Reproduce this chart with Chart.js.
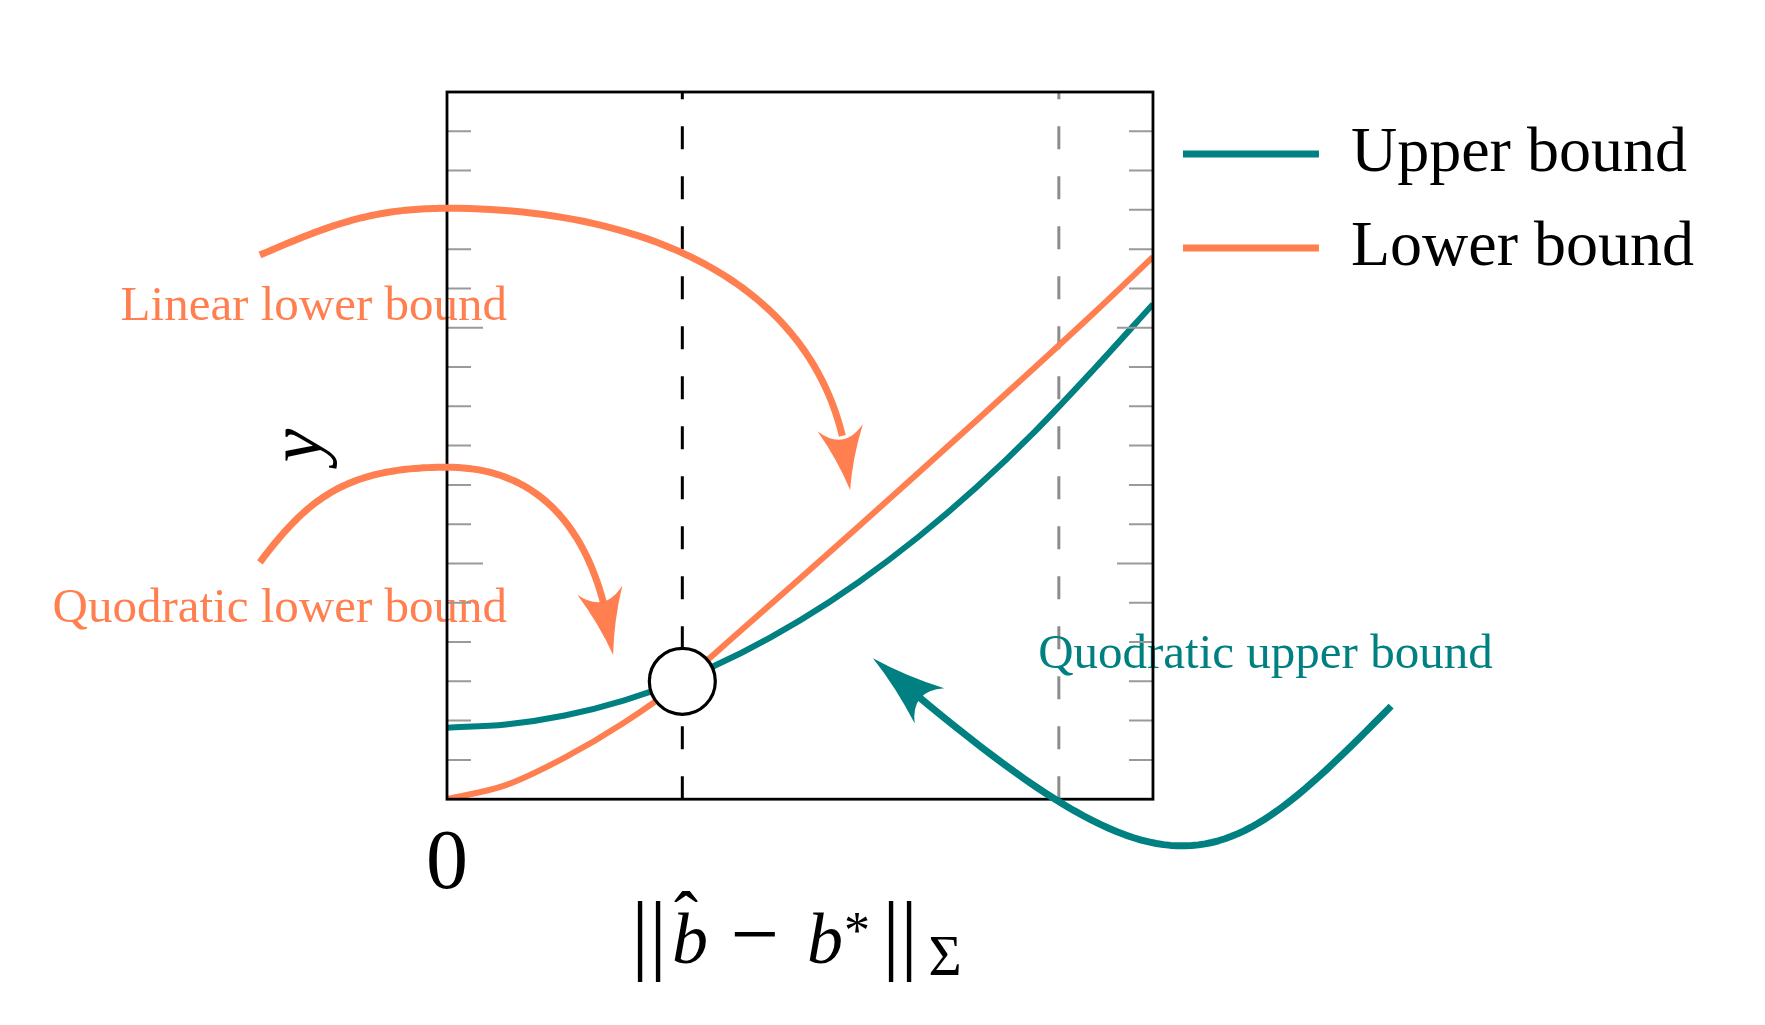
<!DOCTYPE html>
<html>
<head>
<meta charset="utf-8">
<script src="https://cdn.jsdelivr.net/npm/chart.js@4.4.0/dist/chart.umd.min.js"></script>
<style>
   html, body { margin: 0; padding: 0; background: #fff; }
   canvas { display: block; }
</style>
</head>
<body>
<canvas id="boundChart" width="1765" height="1025"></canvas>
<script>
// curve samples
var xValues = [0, 0.25, 0.5, 0.75, 1, 1.25, 1.5, 1.75, 2, 2.25, 2.5, 2.75, 3];
var upperBound = [1.82, 1.90, 2.13, 2.51, 3.04, 3.72, 4.55, 5.53, 6.66, 7.94, 9.37, 10.95, 12.60];
var lowerBound = [0, 0.36, 1.06, 1.94, 3.0, 4.30, 5.62, 6.95, 8.29, 9.64, 11.0, 12.38, 13.8];
var seriesNames = ['Upper bound', 'Lower bound'];
var touchPoint = [{ x: 1, y: 3 }];

// axes
var xMin = 0, xMax = 3;
var yMin = 0, yMax = 18, yMinorStep = 1, yMajorStep = 6;
var xTickValues = [0];
var xTickLabels = ['0'];
var yTitle = 'y';
var dashedXs = [1, 2.6];

// annotations (data coordinates)
var annotationTexts = ['Linear lower bound', 'Quodratic lower bound', 'Quodratic upper bound'];
var annotationAnchors = [[0.255, 12.19], [0.255, 4.51], [2.512, 3.33]];
// arrow paths as bezier: start point, then (control, control, end) per segment; last end is the tip
var linearArrow = [[-0.795, 13.85], [-0.501, 14.61], [-0.319, 15.04], [0, 15.04],
                   [0.946, 15.04], [1.670, 12.70], [1.713, 7.87]];
var quadLowerArrow = [[-0.795, 6.03], [-0.591, 7.66], [-0.425, 8.45], [0, 8.45],
                      [0.480, 8.45], [0.659, 6.08], [0.706, 3.67]];
var quadUpperArrow = [[4.012, 2.37], [3.260, -2.2], [3.081, -2.95], [1.810, 3.59]];

var TEAL = 'rgb(0,128,128)';
var CORAL = 'rgb(255,127,80)';
var SERIF = '"Liberation Serif", "Times New Roman", serif';

function toPx(chart, p) {
   return { x: chart.scales.x.getPixelForValue(p[0]), y: chart.scales.y.getPixelForValue(p[1]) };
}

// sample the bezier segments densely
function bezierPoints(pts) {
   var out = [pts[0]];
   for (var i = 1; i + 2 < pts.length; i += 3) {
      var p0 = pts[i - 1], c1 = pts[i], c2 = pts[i + 1], p1 = pts[i + 2];
      for (var s = 1; s <= 60; s++) {
         var t = s / 60, u = 1 - t;
         out.push({
            x: u * u * u * p0.x + 3 * u * u * t * c1.x + 3 * u * t * t * c2.x + t * t * t * p1.x,
            y: u * u * u * p0.y + 3 * u * u * t * c1.y + 3 * u * t * t * c2.y + t * t * t * p1.y
         });
      }
   }
   return out;
}

function drawArrow(chart, points, color) {
   var ctx = chart.ctx;
   var dense = bezierPoints(points.map(function(p) { return toPx(chart, p); }));
   var tip = dense[dense.length - 1];
   var headLen = 62, halfW = 23;
   var fromTip = [0];
   for (var i = dense.length - 2; i >= 0; i--) {
      fromTip.unshift(fromTip[0] + Math.hypot(dense[i + 1].x - dense[i].x, dense[i + 1].y - dense[i].y));
   }
   var shaft = [], base = dense[0];
   for (var j = 0; j < dense.length; j++) {
      if (fromTip[j] >= headLen - 14) shaft.push(dense[j]);
      if (fromTip[j] >= headLen) base = dense[j];
   }

   ctx.save();
   ctx.strokeStyle = color;
   ctx.fillStyle = color;
   ctx.lineWidth = 7;
   ctx.lineJoin = 'round';
   ctx.beginPath();
   ctx.moveTo(shaft[0].x, shaft[0].y);
   for (var k = 1; k < shaft.length; k++) ctx.lineTo(shaft[k].x, shaft[k].y);
   ctx.stroke();

   var dx = tip.x - base.x, dy = tip.y - base.y, len = Math.hypot(dx, dy);
   var ux = dx / len, uy = dy / len, nx = -uy, ny = ux;
   var c1 = { x: base.x + nx * halfW, y: base.y + ny * halfW };
   var c2 = { x: base.x - nx * halfW, y: base.y - ny * halfW };
   ctx.beginPath();
   ctx.moveTo(tip.x, tip.y);
   ctx.quadraticCurveTo((tip.x + c1.x) / 2 - nx * 4, (tip.y + c1.y) / 2 - ny * 4, c1.x, c1.y);
   ctx.quadraticCurveTo(base.x + ux * 24, base.y + uy * 24, c2.x, c2.y);
   ctx.quadraticCurveTo((tip.x + c2.x) / 2 + nx * 4, (tip.y + c2.y) / 2 + ny * 4, tip.x, tip.y);
   ctx.closePath();
   ctx.fill();
   ctx.restore();
}

function drawMathTitle(ctx, cx, baseY) {
   ctx.save();
   ctx.fillStyle = '#000';
   ctx.textBaseline = 'alphabetic';
   ctx.textAlign = 'center';
   ctx.font = '88px ' + SERIF;
   ctx.fillText('|', cx - 160, baseY);
   ctx.fillText('|', cx - 142, baseY);
   ctx.fillText('|', cx + 91, baseY);
   ctx.fillText('|', cx + 109, baseY);
   ctx.font = '86px ' + SERIF;
   ctx.fillText('\u2212', cx - 45, baseY);
   ctx.font = 'italic 72px ' + SERIF;
   ctx.fillText('b', cx - 110, baseY);
   ctx.fillText('b', cx + 25, baseY);
   ctx.font = '72px ' + SERIF;
   ctx.fillText('\u02c6', cx - 114, baseY - 22);
   ctx.font = '52px ' + SERIF;
   ctx.fillText('*', cx + 57, baseY - 15);
   ctx.font = '57px ' + SERIF;
   ctx.fillText('\u03a3', cx + 145, baseY + 12);
   ctx.restore();
}

var decorPlugin = {
   id: 'decor',
   beforeDatasetsDraw: function(chart) {
      var ctx = chart.ctx, area = chart.chartArea;
      ctx.save();
      ctx.lineWidth = 3;
      ctx.setLineDash([23, 27]);
      dashedXs.forEach(function(v, i) {
         var x = chart.scales.x.getPixelForValue(v);
         ctx.strokeStyle = i === 0 ? '#000' : '#8c8c8c';
         ctx.beginPath();
         ctx.moveTo(x, area.bottom);
         ctx.lineTo(x, area.top);
         ctx.stroke();
      });
      ctx.restore();
   },
   afterDatasetsDraw: function(chart) {
      var ctx = chart.ctx, area = chart.chartArea;
      var yScale = chart.scales.y;

      // annotation texts
      ctx.save();
      ctx.font = '49px ' + SERIF;
      ctx.textBaseline = 'alphabetic';
      annotationTexts.forEach(function(txt, i) {
         var p = toPx(chart, annotationAnchors[i]);
         ctx.fillStyle = i < 2 ? CORAL : TEAL;
         ctx.textAlign = i < 2 ? 'right' : 'left';
         ctx.fillText(txt, p.x, p.y);
      });
      ctx.restore();

      // inside tick marks on both sides
      ctx.save();
      ctx.strokeStyle = '#9a9a9a';
      ctx.lineWidth = 2;
      for (var v = yMin + yMinorStep; v < yMax; v += yMinorStep) {
         var y = yScale.getPixelForValue(v);
         var len = v % yMajorStep === 0 ? 36 : 24;
         ctx.beginPath();
         ctx.moveTo(area.left, y);
         ctx.lineTo(area.left + len, y);
         ctx.moveTo(area.right, y);
         ctx.lineTo(area.right - len, y);
         ctx.stroke();
      }
      ctx.restore();

      // frame
      ctx.save();
      ctx.strokeStyle = '#000';
      ctx.lineWidth = 2.8;
      ctx.strokeRect(area.left, area.top, area.right - area.left, area.bottom - area.top);
      ctx.restore();

      drawArrow(chart, linearArrow, CORAL);
      drawArrow(chart, quadLowerArrow, CORAL);
      drawArrow(chart, quadUpperArrow, TEAL);

      // y axis title, rotated
      ctx.save();
      ctx.translate(area.left - 146, (area.top + area.bottom) / 2);
      ctx.rotate(-Math.PI / 2);
      ctx.font = 'italic 76px ' + SERIF;
      ctx.fillStyle = '#000';
      ctx.textAlign = 'center';
      ctx.textBaseline = 'middle';
      ctx.fillText(yTitle, 0, 0);
      ctx.restore();

      drawMathTitle(ctx, (area.left + area.right) / 2, area.bottom + 164);
   }
};

function pairs(ys) {
   return xValues.map(function(x, i) { return { x: x, y: ys[i] }; });
}

var ctx = document.getElementById('boundChart');

var data = {
   datasets: [{
      label: '',
      data: touchPoint,
      order: -1,
      showLine: false,
      pointRadius: 33,
      pointHoverRadius: 33,
      pointBackgroundColor: '#fff',
      pointBorderColor: '#000',
      pointBorderWidth: 3.2,
   }, {
      label: seriesNames[0],
      data: pairs(upperBound),
      borderColor: TEAL,
      backgroundColor: TEAL,
      borderWidth: 6,
      pointRadius: 0,
      cubicInterpolationMode: 'monotone',
      fill: false,
   }, {
      label: seriesNames[1],
      data: pairs(lowerBound),
      borderColor: CORAL,
      backgroundColor: CORAL,
      borderWidth: 6,
      pointRadius: 0,
      cubicInterpolationMode: 'monotone',
      fill: false,
   }]
};

var config = {
   type: 'line',
   data: data,
   plugins: [decorPlugin],
   options: {
      responsive: false,
      animation: false,
      devicePixelRatio: 1,
      layout: {
         padding: { top: 92, left: 447, right: 61, bottom: 93 }
      },
      plugins: {
         tooltip: { enabled: false },
         legend: {
            position: 'right',
            align: 'start',
            labels: {
               color: '#000',
               font: { family: SERIF, size: 64 },
               boxWidth: 136,
               boxHeight: 7,
               padding: 30,
               filter: function(item) { return item.text !== ''; },
               generateLabels: function(chart) {
                  var items = Chart.defaults.plugins.legend.labels.generateLabels(chart);
                  items.forEach(function(it) {
                     it.fillStyle = it.strokeStyle;
                     it.lineWidth = 0;
                  });
                  return items;
               }
            }
         }
      },
      scales: {
         x: {
            type: 'linear',
            min: xMin,
            max: xMax,
            grid: { display: false, drawTicks: false },
            border: { display: false },
            afterBuildTicks: function(scale) {
               scale.ticks = xTickValues.map(function(v) { return { value: v }; });
            },
            ticks: {
               color: '#000',
               padding: 16,
               maxRotation: 0,
               font: { family: SERIF, size: 84 },
               callback: function(value) {
                  var i = xTickValues.indexOf(value);
                  return i >= 0 ? xTickLabels[i] : '';
               }
            }
         },
         y: {
            display: false,
            min: yMin,
            max: yMax,
            ticks: { stepSize: yMinorStep }
         }
      }
   }
};

new Chart(ctx, config);
</script>
</body>
</html>
